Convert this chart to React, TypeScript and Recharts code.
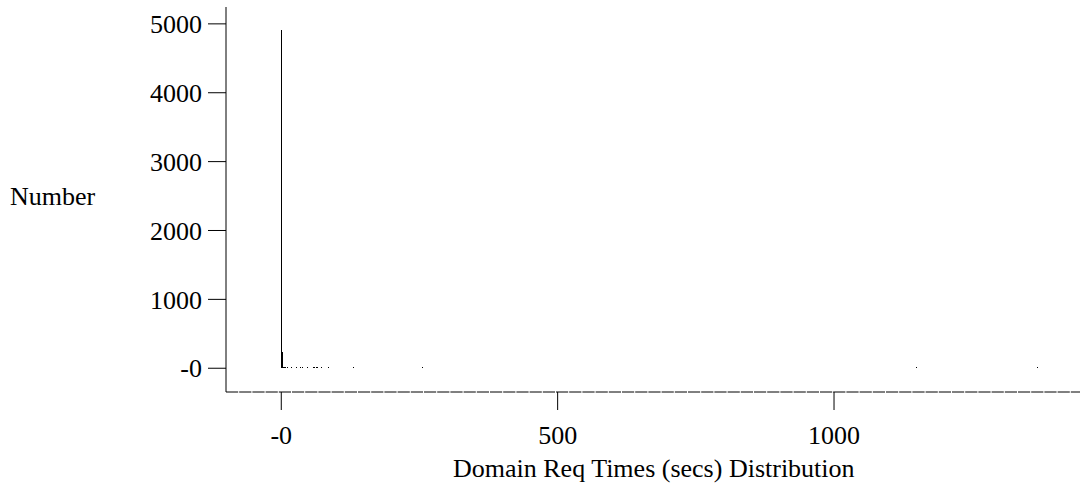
import { ComposedChart, Bar, XAxis, YAxis } from 'recharts'

// request time buckets (secs) and how many requests landed in each
const reqTimes = [0, 2, 3, 4, 5, 7, 12, 19, 28, 34, 39, 48, 59, 61, 63, 65, 66, 72, 85, 131, 256, 1150, 1369]
const reqCounts = [4910, 230, 25, 20, 15, 15, 15, 20, 15, 15, 15, 15, 20, 20, 20, 20, 15, 15, 15, 15, 20, 15, 15]

const xTicks = [0, 500, 1000]
const yTicks = [0, 1000, 2000, 3000, 4000, 5000]

const rows = reqTimes.map((t, i) => ({ t, n: reqCounts[i] }))

const FONT = "'Liberation Serif', 'Times New Roman', serif"
const fmt = (v: number) => (v === 0 ? '-0' : String(v))

const tickStyle = { fill: '#000', fontSize: 26, fontFamily: FONT }

// buckets are far narrower than a pixel, so draw each one as a thin fixed-width spike
function Spike(props: any) {
  const { x, y, width, height } = props
  if (height == null || isNaN(height)) return null
  const cx = x + (width || 0) / 2
  return (
    <rect
      x={cx - 0.5}
      y={y}
      width={1}
      height={Math.max(height, 1)}
      fill="#000"
      shapeRendering="crispEdges"
    />
  )
}

export default function App() {
  return (
    <div style={{ position: 'absolute', left: 0, top: 0, background: '#fff' }}>
      <ComposedChart
        width={1081}
        height={487}
        data={rows}
        margin={{ top: 7, right: 1, bottom: 0, left: 0 }}
      >
        <XAxis
          type="number"
          dataKey="t"
          domain={[-100, 1445]}
          ticks={xTicks}
          allowDataOverflow
          height={95}
          tickSize={18}
          tickMargin={16}
          tickFormatter={fmt}
          tick={tickStyle}
          tickLine={{ stroke: '#000' }}
          axisLine={{ stroke: '#000', strokeDasharray: '12.2 1' }}
          label={{
            content: () => (
              <text x={453} y={477} fontFamily={FONT} fontSize={26} fill="#000">
                Domain Req Times (secs) Distribution
              </text>
            ),
          }}
        />
        <YAxis
          type="number"
          domain={[-345, 5245]}
          ticks={yTicks}
          allowDataOverflow
          width={226}
          tickSize={18}
          tickMargin={6}
          tickFormatter={fmt}
          tick={tickStyle}
          tickLine={{ stroke: '#000' }}
          axisLine={{ stroke: '#000' }}
          label={{
            content: () => (
              <text x={10} y={205} fontFamily={FONT} fontSize={26} fill="#000">
                Number
              </text>
            ),
          }}
        />
        <Bar dataKey="n" fill="#000" barSize={1} shape={Spike} isAnimationActive={false} />
      </ComposedChart>
    </div>
  )
}
